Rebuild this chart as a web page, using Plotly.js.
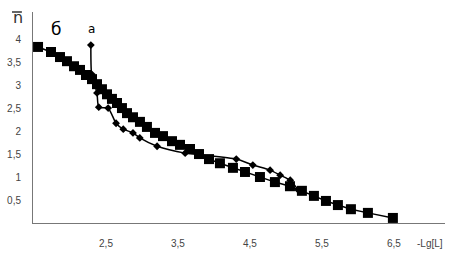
<!DOCTYPE html>
<html><head><meta charset="utf-8">
<script src="https://cdn.plot.ly/plotly-3.0.1.min.js"></script>
<style>html,body{margin:0;padding:0;background:#fff}#c{width:454px;height:254px}</style>
</head><body><div id="c"></div>
<script>
// Series b (squares)
const bX = [1.556,1.736,1.861,1.958,2.056,2.139,2.222,2.306,2.375,2.444,2.514,2.583,2.653,2.722,2.792,2.875,2.972,3.069,3.181,3.292,3.417,3.528,3.667,3.792,3.931,4.083,4.264,4.431,4.639,4.847,5.056,5.222,5.389,5.556,5.722,5.903,6.139,6.486];
const bY = [3.83,3.72,3.61,3.52,3.41,3.33,3.22,3.13,3.02,2.91,2.80,2.70,2.61,2.50,2.39,2.30,2.20,2.09,1.96,1.89,1.78,1.70,1.61,1.50,1.39,1.30,1.20,1.11,1.00,0.89,0.80,0.70,0.59,0.48,0.39,0.30,0.22,0.11];
// Series a (diamonds)
const aX = [2.29,2.30,2.375,2.40,2.53,2.64,2.74,2.875,2.97,3.21,3.60,4.31,4.54,4.78,4.92,5.06,5.17];
const aY = [3.87,3.24,2.83,2.52,2.50,2.17,2.04,1.96,1.85,1.67,1.52,1.39,1.26,1.15,1.04,0.93,0.72];
const xTicks = [2.5,3.5,4.5,5.5,6.5];
const yTicks = [0.5,1,1.5,2,2.5,3,3.5,4];

const traces = [
  {x:bX, y:bY, mode:'lines+markers', line:{color:'#000',width:1.5},
   marker:{symbol:'square',size:10,color:'#000'}, hoverinfo:'skip'},
  {x:aX, y:aY, mode:'lines+markers', line:{color:'#000',width:1.5,shape:'spline',smoothing:0.6},
   marker:{symbol:'diamond',size:6,color:'#000'}, hoverinfo:'skip'}
];
const axFont = {family:'Liberation Sans, DejaVu Sans, sans-serif', size:10, color:'#444'};
const layout = {
  width:454, height:254, showlegend:false,
  separators:', ',
  margin:{l:33,r:9,t:12,b:31},
  paper_bgcolor:'#fff', plot_bgcolor:'#fff',
  xaxis:{range:[1.486,7.21], tickvals:xTicks, ticktext:xTicks.map(v=>String(v).replace('.',',')),
    showgrid:false, zeroline:false, showline:true, linecolor:'#777', linewidth:1,
    ticks:'outside', ticklen:11, tickcolor:'rgba(0,0,0,0)', tickfont:axFont},
  yaxis:{range:[0,4.59], tickvals:yTicks, ticktext:yTicks.map(v=>String(v).replace('.',',')),
    showgrid:false, zeroline:false, showline:true, linecolor:'#777', linewidth:1,
    ticks:'outside', ticklen:9, tickcolor:'rgba(0,0,0,0)', tickfont:axFont},
  shapes:[
    {type:'line', xref:'paper', yref:'paper', x0:-0.051, x1:-0.027, y0:1.0, y1:1.0,
     line:{color:'#333', width:1.5}}
  ],
  annotations:[
    {xref:'paper',yref:'paper',x:-0.0376,y:0.972,xanchor:'center',yanchor:'middle',showarrow:false,
     text:'n', font:{family:'DejaVu Sans, sans-serif',size:16,color:'#333'}},
    {xref:'paper',yref:'paper',x:0.057,y:0.92,xanchor:'center',yanchor:'middle',showarrow:false,
     text:'б', font:{family:'DejaVu Sans, sans-serif',size:17,color:'#000'}},
    {xref:'paper',yref:'paper',x:0.142,y:0.92,xanchor:'center',yanchor:'middle',showarrow:false,
     text:'a', font:{family:'DejaVu Sans, sans-serif',size:12,color:'#000'}},
    {xref:'paper',yref:'paper',x:1.0,y:-0.095,xanchor:'right',yanchor:'middle',showarrow:false,
     text:'-Lg[L]', font:axFont}
  ]
};
Plotly.newPlot('c', traces, layout, {displayModeBar:false, staticPlot:true});
</script></body></html>
